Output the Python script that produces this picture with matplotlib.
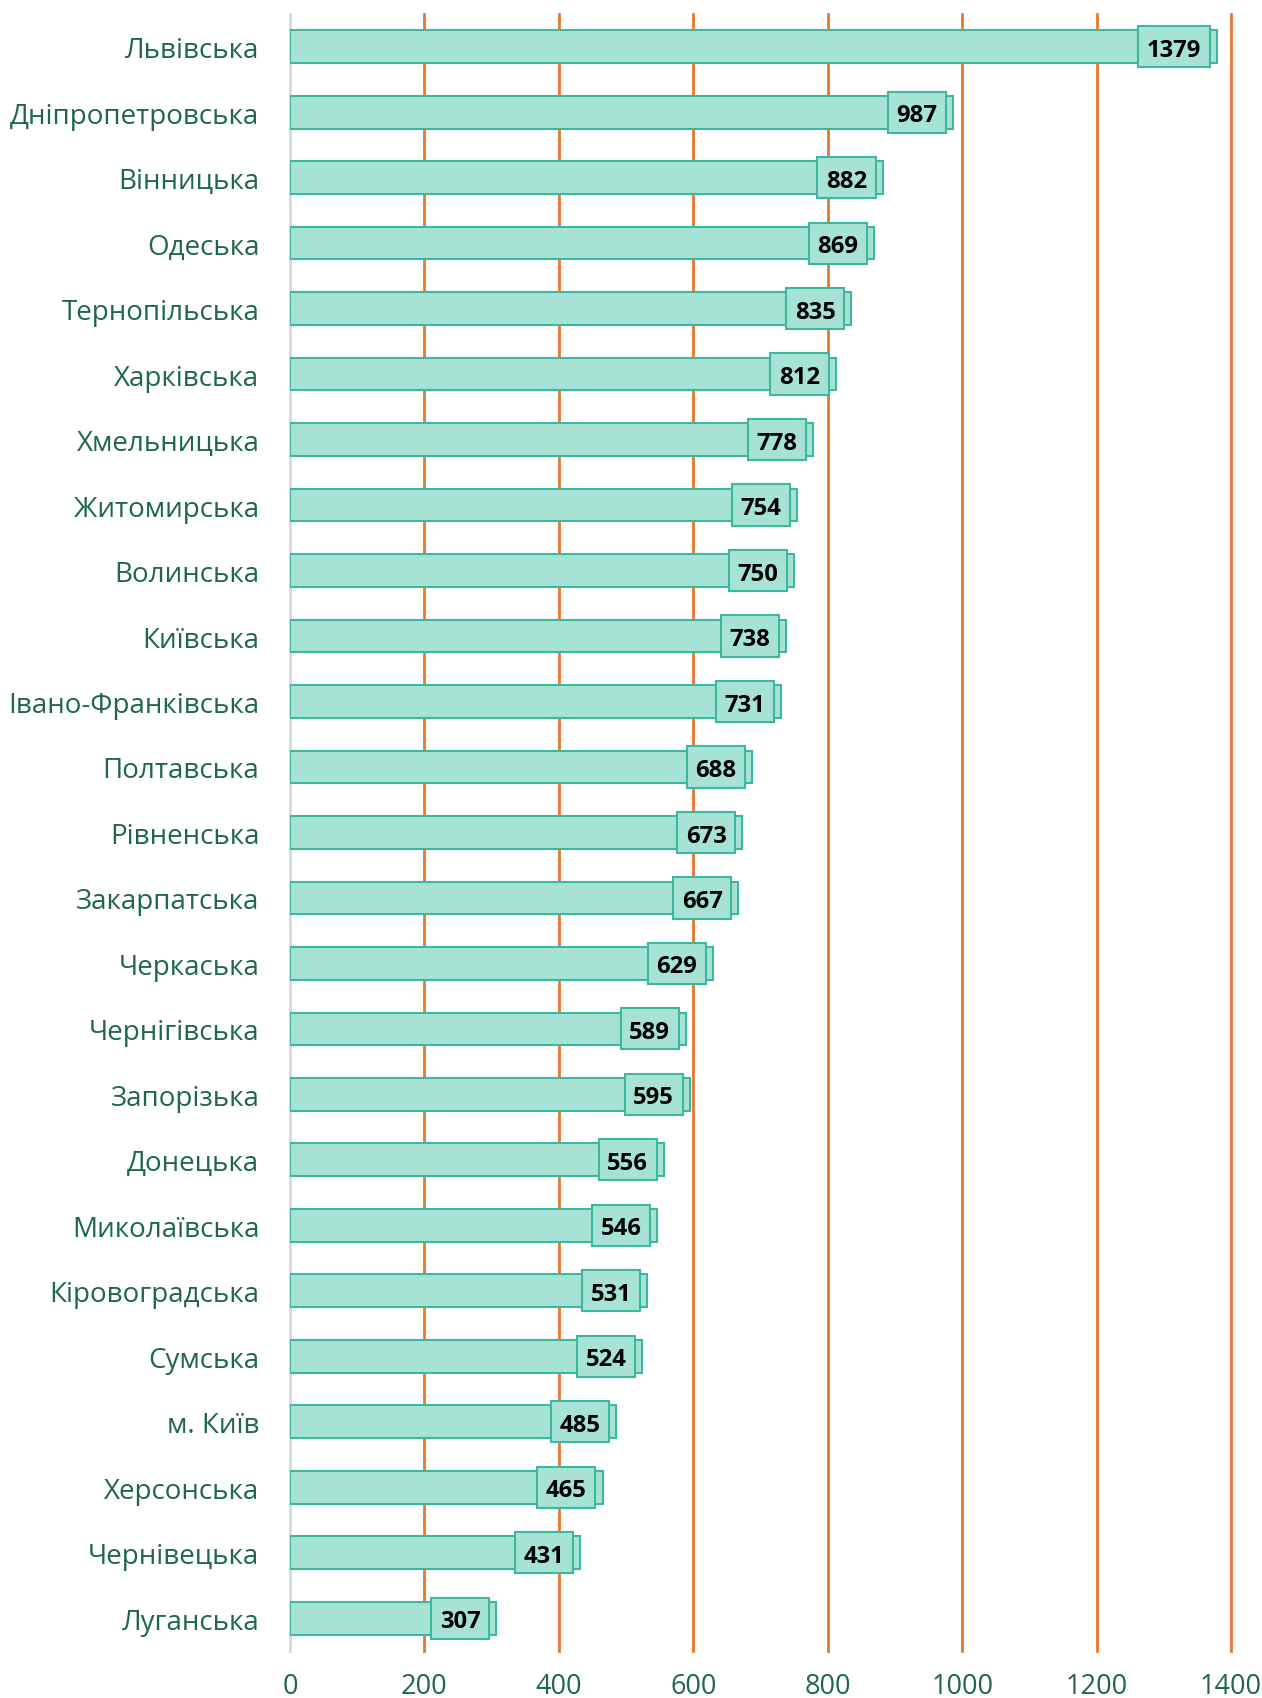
import matplotlib
matplotlib.use("Agg")
import matplotlib.pyplot as plt

# Data (top to bottom as in the chart)
regions = ["Львівська", "Дніпропетровська", "Вінницька", "Одеська", "Тернопільська",
           "Харківська", "Хмельницька", "Житомирська", "Волинська", "Київська",
           "Івано-Франківська", "Полтавська", "Рівненська", "Закарпатська", "Черкаська",
           "Чернігівська", "Запорізька", "Донецька", "Миколаївська", "Кіровоградська",
           "Сумська", "м. Київ", "Херсонська", "Чернівецька", "Луганська"]
values = [1379, 987, 882, 869, 835, 812, 778, 754, 750, 738, 731, 688, 673, 667, 629,
          589, 595, 556, 546, 531, 524, 485, 465, 431, 307]
xticks = [0, 200, 400, 600, 800, 1000, 1200, 1400]

fill = "#A7E3D5"
edge = "#3CB8A1"
green = "#1F6650"
orange = "#E8772E"

plt.rcParams['font.family'] = ['Open Sans', 'DejaVu Sans']

fig = plt.figure(figsize=(12.62, 16.99), dpi=100)
ax = fig.add_axes([0.2298, 0.0277, 0.9754 - 0.2298, 0.9912 - 0.0277])

ypos = list(range(len(regions)))
ax.barh(ypos, values, height=0.5, color=fill, edgecolor=edge, linewidth=1.5, zorder=3)

# value labels in boxes, right-aligned just inside the bar end
fs = 17.2
for y, v in zip(ypos, values):
    # the box (text itself transparent)
    ax.annotate(str(v), xy=(v, y), xytext=(-11.3, 0), textcoords="offset points",
                ha="right", va="center", fontsize=fs, fontweight="bold",
                color=(0, 0, 0, 0), zorder=5,
                bbox=dict(boxstyle="square,pad=0.36", facecolor=fill,
                          edgecolor=edge, linewidth=1.5))
    # the number, nudged down to sit in the middle of the box
    ax.annotate(str(v), xy=(v, y), xytext=(-11.3, -2.2), textcoords="offset points",
                ha="right", va="center", fontsize=fs, fontweight="bold",
                color="black", zorder=6)

ax.set_xlim(0, 1400)
ax.set_ylim(len(regions) - 0.5, -0.5)
ax.set_xticks(xticks)
ax.set_yticks(ypos)
ax.set_yticklabels(regions)

# orange vertical gridlines
for t in xticks[1:]:
    ax.axvline(t, color=orange, linewidth=2, zorder=1, clip_on=False)

for s in ["top", "right", "bottom"]:
    ax.spines[s].set_visible(False)
ax.spines["left"].set_color("#D9D9D9")
ax.spines["left"].set_linewidth(2)

ax.tick_params(axis="y", length=0, pad=22, labelsize=20, labelcolor=green)
ax.tick_params(axis="x", length=0, pad=15, labelsize=19.5, labelcolor=green)

fig.savefig("out.png", dpi=100)
